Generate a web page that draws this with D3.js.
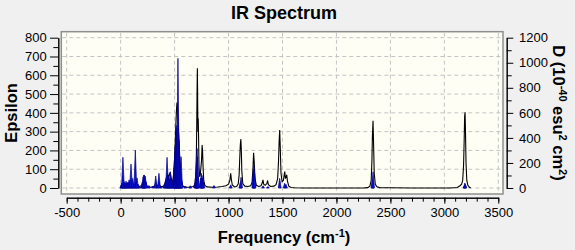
<!DOCTYPE html>
<html>
<head>
<meta charset="utf-8">
<script src="https://cdn.jsdelivr.net/npm/d3@7"></script>
<style>
  body { margin: 0; background: #f0f0f0; }
  svg { display: block; font-family: "Liberation Sans", Arial, sans-serif; }
</style>
</head>
<body>
<div id="chart"></div>
<script>
// Convolved spectrum: [frequency cm-1, epsilon]
const spectrum = [
  [0,0],[8,6],[15,14],[22,22],[30,10],[40,16],[52,12],[62,24],[70,14],[80,30],[88,16],[98,26],
  [108,12],[118,20],[128,14],[138,24],[148,10],[165,6],[185,10],[200,16],[212,28],[220,34],[228,26],
  [240,12],[255,6],[275,4],[295,6],[315,10],[325,24],[333,10],[345,12],[355,30],[363,12],[380,6],
  [400,10],[412,28],[420,48],[428,62],[436,74],[444,56],[452,70],[460,84],[468,56],[476,30],[484,34],
  [492,80],[500,160],[507,260],[513,360],[518,420],[522,455],[526,440],[530,380],[536,300],[542,240],
  [548,160],[555,90],[562,40],[572,14],[590,6],[620,4],[650,5],[675,8],[688,20],[696,70],[702,180],
  [706,380],[709,560],[711,637],[713,520],[715,380],[717,300],[719,370],[722,280],[726,120],[732,60],
  [738,70],[744,110],[750,150],[755,229],[759,200],[764,110],[770,40],[780,14],[800,6],[850,4],
  [900,5],[940,8],[975,12],[1000,20],[1012,40],[1020,78],[1026,45],[1035,16],[1055,6],[1075,8],
  [1090,22],[1098,70],[1104,160],[1109,230],[1114,260],[1118,210],[1123,90],[1132,24],[1150,10],
  [1180,8],[1205,12],[1218,30],[1226,100],[1232,188],[1238,140],[1245,50],[1258,14],[1280,8],
  [1300,12],[1312,26],[1319,43],[1326,20],[1340,14],[1355,24],[1362,40],[1369,18],[1390,8],[1420,10],
  [1440,18],[1455,50],[1463,140],[1469,250],[1474,308],[1479,220],[1486,80],[1496,34],[1508,40],
  [1516,70],[1521,87],[1527,50],[1533,58],[1539,70],[1546,36],[1558,10],[1580,3],[1610,1],[1700,0],
  [2000,0],[2250,0],[2290,2],[2310,10],[2322,40],[2329,150],[2333,273],[2339,358],[2344,240],
  [2350,80],[2360,20],[2375,6],[2400,2],[2500,1],[2700,0],[3050,0],[3120,3],[3145,12],[3160,20],
  [3170,40],[3178,120],[3184,260],[3188,380],[3192,403],[3196,300],[3201,130],[3208,40],[3218,14],
  [3232,4],[3245,0]
];

// Dipole strength sticks: [frequency cm-1, D (1e-40 esu^2 cm^2)]
const sticks = [
  [6,30],[12,40],[21,245],[28,45],[35,50],[42,35],[50,55],[58,40],[66,45],[78,65],[86,35],[96,192],
  [104,30],[112,77],[122,25],[136,303],[144,45],[152,80],[162,30],[175,15],[200,45],[208,90],[214,104],
  [220,104],[228,95],[236,50],[262,20],[300,15],[325,96],[340,20],[355,117],[372,15],[405,30],[415,55],
  [424,70],[430,245],[437,100],[444,90],[452,75],[460,130],[467,80],[474,40],[486,70],[494,160],
  [500,250],[505,330],[510,420],[515,480],[520,500],[525,470],[531,1035],[536,480],[541,380],[547,250],
  [553,150],[560,250],[566,60],[600,12],[645,18],[690,40],[698,120],[703,200],[708,316],[713,250],
  [718,90],[742,80],[748,118],[754,100],[760,80],[766,50],[865,20],[1020,25],[1110,45],[1116,86],
  [1230,150],[1236,178],[1241,120],[1320,18],[1365,12],[1474,77],[1520,38],[1532,30],[2334,70],
  [2339,130],[3186,20],[3190,40],[3195,30]
];

const xTicks = d3.range(-500, 3501, 500);
const xMinorTicks = d3.range(-500, 3501, 100);
const leftTicks = d3.range(0, 801, 100);
const leftMinorTicks = d3.range(50, 800, 100);
const rightTicks = d3.range(0, 1201, 200);
const rightMinorTicks = d3.range(100, 1200, 200);

const width = 575, height = 250;
const frame = {left: 61.3, right: 503, top: 31.7, bottom: 194};

const x = d3.scaleLinear().domain([-500, 3500]).range([66.7, 498.3]);
const yL = d3.scaleLinear().domain([0, 800]).range([188, 37.7]);
const yR = d3.scaleLinear().domain([0, 1200]).range([188, 37.7]);

const plain = d => String(d);  // "-500", "1200": no comma, ascii minus

const svg = d3.select("#chart").append("svg")
  .attr("width", width).attr("height", height);

svg.append("rect").attr("width", width).attr("height", height).attr("fill", "#f0f0f0");

// plot area
svg.append("rect")
  .attr("x", frame.left).attr("y", frame.top)
  .attr("width", frame.right - frame.left).attr("height", frame.bottom - frame.top)
  .attr("fill", "#fffef4").attr("stroke", "#8e8e8e").attr("stroke-width", 1.5);

// dashed grid
const grid = svg.append("g").attr("stroke", "#c4c4c4").attr("stroke-dasharray", "4,3");
grid.selectAll("line.v").data(xTicks).join("line")
  .attr("x1", d => x(d)).attr("x2", d => x(d))
  .attr("y1", frame.top + 1).attr("y2", frame.bottom - 1);
grid.selectAll("line.h").data(leftTicks).join("line")
  .attr("y1", d => yL(d)).attr("y2", d => yL(d))
  .attr("x1", frame.left + 1).attr("x2", frame.right - 1);

// convolved spectrum
svg.append("path")
  .datum(spectrum)
  .attr("fill", "none").attr("stroke", "#000").attr("stroke-width", 1.1)
  .attr("d", d3.line().x(d => x(d[0])).y(d => yL(d[1])));

// dipole sticks drawn as narrow spikes
const hw = 1.4;
svg.append("g").selectAll("path").data(sticks).join("path")
  .attr("fill", "#0a14e6").attr("stroke", "#00008c").attr("stroke-width", 0.7)
  .attr("d", d => {
    const cx = x(d[0]);
    return `M${cx - hw},${yR(0)}L${cx},${yR(d[1])}L${cx + hw},${yR(0)}Z`;
  });

// axes
function styleAxis(g) {
  g.selectAll("text").attr("font-size", 13).attr("fill", "#000")
    .attr("font-family", "'Liberation Sans', Arial, sans-serif");
  g.selectAll("line, path").attr("stroke", "#000");
}

svg.append("g").attr("transform", "translate(58.3,0)")
  .call(d3.axisLeft(yL).tickValues(leftMinorTicks).tickSize(5).tickSizeOuter(0).tickFormat(""))
  .call(styleAxis);
svg.append("g").attr("transform", "translate(58.3,0)")
  .call(d3.axisLeft(yL).tickValues(leftTicks).tickSize(8.3).tickSizeOuter(0).tickPadding(3.3).tickFormat(plain))
  .call(styleAxis);

svg.append("g").attr("transform", "translate(506.7,0)")
  .call(d3.axisRight(yR).tickValues(rightMinorTicks).tickSize(5).tickSizeOuter(0).tickFormat(""))
  .call(styleAxis);
svg.append("g").attr("transform", "translate(506.7,0)")
  .call(d3.axisRight(yR).tickValues(rightTicks).tickSize(6.6).tickSizeOuter(0).tickPadding(5.7).tickFormat(plain))
  .call(styleAxis);

svg.append("g").attr("transform", "translate(0,197.7)")
  .call(d3.axisBottom(x).tickValues(xMinorTicks).tickSize(4).tickSizeOuter(0).tickFormat(""))
  .call(styleAxis);
svg.append("g").attr("transform", "translate(0,197.7)")
  .call(d3.axisBottom(x).tickValues(xTicks).tickSize(6).tickSizeOuter(0).tickPadding(4).tickFormat(plain))
  .call(styleAxis);

// titles
svg.append("text").attr("x", 284).attr("y", 19).attr("text-anchor", "middle")
  .attr("font-size", 18).attr("font-weight", "bold").text("IR Spectrum");

svg.append("text").attr("transform", "translate(17,113) rotate(-90)")
  .attr("text-anchor", "middle").attr("font-size", 16.5).attr("font-weight", "bold")
  .text("Epsilon");

const xt = svg.append("text").attr("x", 284).attr("y", 243).attr("text-anchor", "middle")
  .attr("font-size", 16.5).attr("font-weight", "bold");
xt.append("tspan").text("Frequency (cm");
xt.append("tspan").attr("dy", -6).attr("font-size", 11).text("-1");
xt.append("tspan").attr("dy", 6).text(")");

const rt = svg.append("text").attr("transform", "translate(553,113) rotate(90)")
  .attr("text-anchor", "middle").attr("font-size", 16.5).attr("font-weight", "bold");
rt.append("tspan").text("D (10");
rt.append("tspan").attr("dy", -6).attr("font-size", 11).text("-40");
rt.append("tspan").attr("dy", 6).text(" esu");
rt.append("tspan").attr("dy", -6).attr("font-size", 11).text("2");
rt.append("tspan").attr("dy", 6).text(" cm");
rt.append("tspan").attr("dy", -6).attr("font-size", 11).text("2");
rt.append("tspan").attr("dy", 6).text(")");
</script>
</body>
</html>
